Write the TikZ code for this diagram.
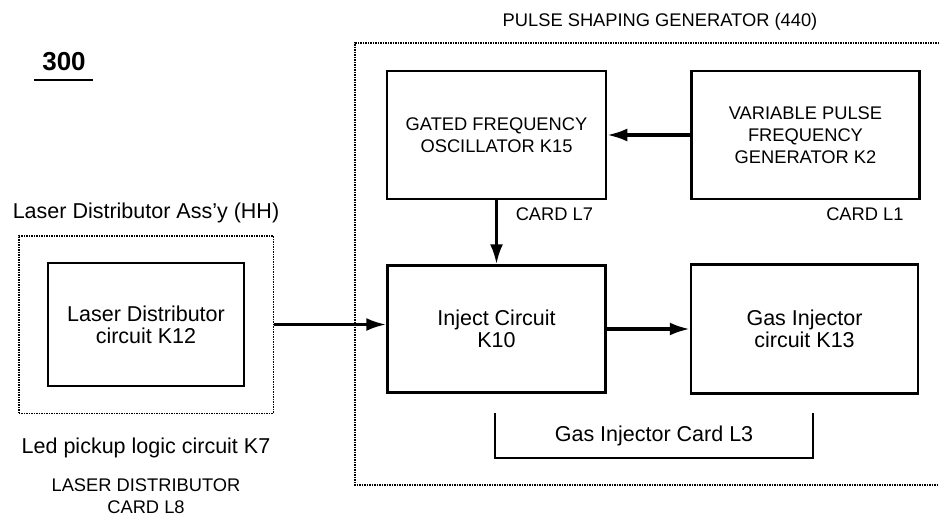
\documentclass[tikz,border=0pt]{standalone}
\usepackage{fontspec}
\setmainfont{Liberation Sans}
\usetikzlibrary{arrows.meta,positioning,fit}

\begin{document}
\begin{tikzpicture}[x=1pt, y=-1pt,
  node distance=64pt and 83pt,
  box/.style={rectangle, draw, line width=2.5pt, align=center, inner sep=0pt},
  caps/.style={font=\fontsize{18.3}{22}\selectfont},
  lower/.style={font=\fontsize{21.5}{22}\selectfont},
  lbl/.style={inner sep=0pt, align=center},
  arr/.style={line width=3.2pt, -{Latex[length=20pt,width=13pt]}},
  frame/.style={densely dotted, line width=1.5pt}
]
  \useasboundingbox (0,0) rectangle (939,516);
  \draw[frame] (939,43) -| (355,485) -- (939,485);
  \node[lbl, caps] (psg) at (660,22) {PULSE SHAPING GENERATOR (440)};
  \node[lbl, font=\fontsize{26}{30}\selectfont\bfseries] (num) at (64,62) {300};
  \draw[line width=2pt] ([xshift=-8pt,yshift=-9pt]num.south west) -- ([xshift=7pt,yshift=-9pt]num.south east);

  \node[box, caps, minimum width=219pt, minimum height=128pt] (gfo) at (496.5,135) {GATED FREQUENCY\\OSCILLATOR K15};
  \node[box, caps, minimum width=228pt, minimum height=128pt, right=of gfo] (vpfg) {VARIABLE PULSE\\FREQUENCY\\GENERATOR K2};
  \node[box, lower, minimum width=218pt, minimum height=127pt, below=of gfo] (inj) {Inject Circuit\\K10};
  \node[box, lower, minimum width=227pt, minimum height=129pt, right=of inj] (gic) {Gas Injector\\circuit K13};
  \node[box, lower, minimum width=196pt, minimum height=123pt] (ldc) at (146,324.5) {Laser Distributor\\circuit K12};
  \node[frame, draw, fit=(ldc), inner xsep=28pt, inner ysep=26pt] (assy) {};

  \node[lbl, lower, above=12pt of assy] (assyname) {Laser Distributor Ass'y (HH)};
  \node[lbl, lower, below=24pt of assy] (led) {Led pickup logic circuit K7};
  \node[lbl, caps, below=20pt of led] (ldcard) {LASER DISTRIBUTOR\\CARD L8};
  \node[lbl, caps, below left=7pt and 14pt of gfo.south east] (l7) {CARD L7};
  \node[lbl, caps, below left=7pt and 17pt of vpfg.south east] (l1) {CARD L1};
  \node[lbl, lower, minimum width=318pt, minimum height=45pt] (gcard) at (654,435.5) {Gas Injector Card L3};
  \draw[line width=2.2pt] (gcard.north west) |- (gcard.south east) -- (gcard.north east);

  \draw[arr] (vpfg) -- (gfo);
  \draw[arr] (gfo) -- (inj);
  \draw[arr] (inj) -- (gic);
  \draw[arr] (assy.east) -- (assy.east -| inj.west);
\end{tikzpicture}
\end{document}
